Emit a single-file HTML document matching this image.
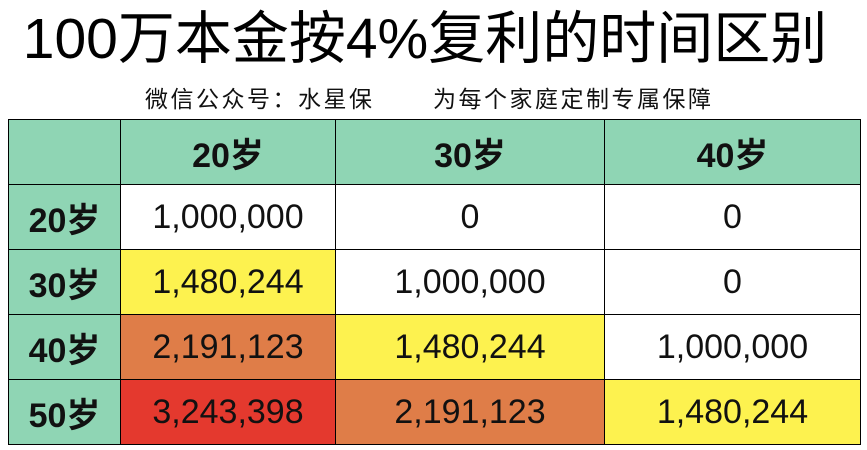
<!DOCTYPE html>
<html><head><meta charset="utf-8"><style>
body{margin:0;width:867px;height:450px;background:#fff;position:relative;overflow:hidden;font-family:"Liberation Sans","Noto Sans CJK SC",sans-serif;}
#title{position:absolute;left:0;width:850px;top:6px;text-align:center;font-size:57px;line-height:66px;color:#000;}
#sub{position:absolute;left:145px;top:84px;font-size:23px;line-height:30px;color:#111;white-space:nowrap;letter-spacing:2.5px;}
#sub span{position:absolute;left:288px;top:0;}
table{position:absolute;left:8px;top:119px;border-collapse:collapse;}
td{border:1.5px solid #000;text-align:center;font-size:34px;height:64px;padding:0;color:#111;}
.h{background:#8fd5b4;font-weight:bold;}
.w{background:#fff}.y{background:#fdf24f}.o{background:#df7d48}.r{background:#e4392e}
</style></head><body>
<div id="title">100万本金按4%复利的时间区别</div>
<div id="sub">微信公众号：水星保<span>为每个家庭定制专属保障</span></div>
<table>
<colgroup><col style="width:112px"><col style="width:215px"><col style="width:269px"><col style="width:256px"></colgroup>
<tr><td class="h"></td><td class="h">20岁</td><td class="h">30岁</td><td class="h">40岁</td></tr>
<tr><td class="h">20岁</td><td class="w">1,000,000</td><td class="w">0</td><td class="w">0</td></tr>
<tr><td class="h">30岁</td><td class="y">1,480,244</td><td class="w">1,000,000</td><td class="w">0</td></tr>
<tr><td class="h">40岁</td><td class="o">2,191,123</td><td class="y">1,480,244</td><td class="w">1,000,000</td></tr>
<tr><td class="h">50岁</td><td class="r">3,243,398</td><td class="o">2,191,123</td><td class="y">1,480,244</td></tr>
</table>
</body></html>
